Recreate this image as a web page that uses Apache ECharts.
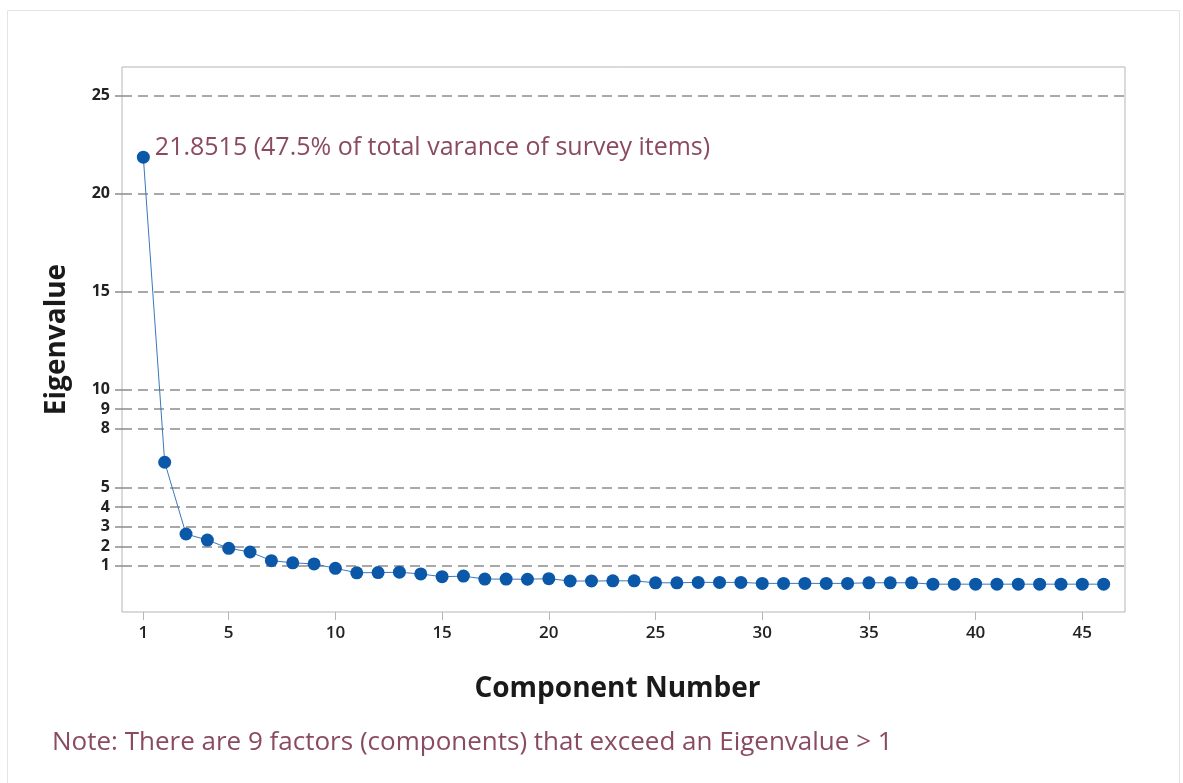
<!DOCTYPE html>
<html>
<head>
<meta charset="utf-8">
<script src="https://cdn.jsdelivr.net/npm/echarts@6/dist/echarts.min.js"></script>
<style>
  html, body { margin: 0; padding: 0; background: #ffffff; }
  #chart { width: 1183px; height: 783px; }
</style>
</head>
<body>
<div id="chart"></div>
<script>
// Scree plot: eigenvalue of each principal component
const componentNumbers = [
  1, 2, 3, 4, 5, 6, 7, 8, 9, 10, 11, 12, 13, 14, 15, 16, 17, 18, 19, 20, 21, 22, 23,
  24, 25, 26, 27, 28, 29, 30, 31, 32, 33, 34, 35, 36, 37, 38, 39, 40, 41, 42, 43, 44, 45, 46
];
const eigenvalues = [
  21.8515, 6.29, 2.63, 2.32, 1.90, 1.71, 1.27, 1.16, 1.10, 0.88, 0.65, 0.66, 0.68, 0.59,
  0.45, 0.48, 0.33, 0.33, 0.32, 0.35, 0.23, 0.23, 0.24, 0.24, 0.14, 0.14, 0.16, 0.16,
  0.16, 0.11, 0.11, 0.11, 0.11, 0.11, 0.14, 0.14, 0.14, 0.07, 0.07, 0.07, 0.07, 0.07,
  0.07, 0.07, 0.07, 0.07
];
const yTickValues = [1, 2, 3, 4, 5, 8, 9, 10, 15, 20, 25];
const xTickValues = [1, 5, 10, 15, 20, 25, 30, 35, 40, 45];
const firstLabel = '21.8515 (47.5% of total varance of survey items)';
const noteText = 'Note: There are 9 factors (components) that exceed an Eigenvalue > 1';

const noteColor = '#8a4b62';
const pointColor = '#0b57a8';
const titleFont = 'Open Sans';

const chart = echarts.init(document.getElementById('chart'), null, { renderer: 'canvas' });

const seriesData = componentNumbers.map((c, i) => {
  const item = { value: [c, eigenvalues[i]] };
  if (i === 0) {
    item.label = {
      show: true,
      position: 'right',
      distance: 5,
      offset: [0, -9],
      formatter: firstLabel,
      color: noteColor,
      fontSize: 25,
      fontFamily: titleFont
    };
  }
  return item;
});

chart.setOption({
  animation: false,
  backgroundColor: '#ffffff',
  graphic: [
    {
      type: 'rect',
      shape: { x: 7.5, y: 10.5, width: 1172, height: 820 },
      style: { fill: 'none', stroke: '#e4e4e4', lineWidth: 1 },
      silent: true
    },
    {
      type: 'text',
      left: 52,
      top: 730,
      style: {
        text: noteText,
        fill: noteColor,
        font: '26px "Open Sans"'
      }
    }
  ],
  grid: {
    left: 122,
    top: 67,
    right: 58,
    bottom: 171,
    show: true,
    borderColor: '#b5b5b5',
    borderWidth: 1,
    backgroundColor: 'transparent'
  },
  xAxis: {
    type: 'value',
    min: 0,
    max: 47,
    name: 'Component Number',
    nameLocation: 'middle',
    nameGap: 63,
    nameTextStyle: {
      fontSize: 28, fontWeight: 'bold', color: '#1a1a1a', fontFamily: titleFont,
      padding: [0, 12, 0, 0]
    },
    axisLine: { show: false, onZero: false },
    splitLine: { show: false },
    axisTick: {
      show: true,
      length: 8,
      customValues: xTickValues,
      lineStyle: { color: '#b5b5b5', width: 1 }
    },
    axisLabel: {
      customValues: xTickValues,
      margin: 13,
      fontSize: 17,
      fontWeight: 600,
      color: '#222222',
      fontFamily: titleFont
    }
  },
  yAxis: {
    type: 'value',
    min: -1.35,
    max: 26.45,
    name: 'Eigenvalue',
    nameLocation: 'middle',
    nameGap: 51,
    nameRotate: 90,
    nameTextStyle: { fontSize: 28, fontWeight: 'bold', color: '#1a1a1a', fontFamily: titleFont },
    axisLine: { show: false, onZero: false },
    splitLine: { show: false },
    axisTick: {
      show: true,
      length: 7,
      customValues: yTickValues,
      lineStyle: { color: '#8c8c8c', width: 1.5 }
    },
    axisLabel: {
      customValues: yTickValues,
      margin: 12,
      fontSize: 16,
      fontWeight: 'bold',
      color: '#222222',
      fontFamily: titleFont
    }
  },
  series: [
    {
      type: 'line',
      data: seriesData,
      symbol: 'circle',
      symbolSize: 13,
      showAllSymbol: true,
      lineStyle: { color: '#3a78bd', width: 1 },
      itemStyle: { color: pointColor },
      z: 5,
      markLine: {
        silent: true,
        symbol: 'none',
        label: { show: false },
        lineStyle: { color: '#8c8c8c', width: 1.5, type: [10, 6] },
        data: yTickValues.map(v => ({ yAxis: v }))
      }
    }
  ]
});
</script>
</body>
</html>
